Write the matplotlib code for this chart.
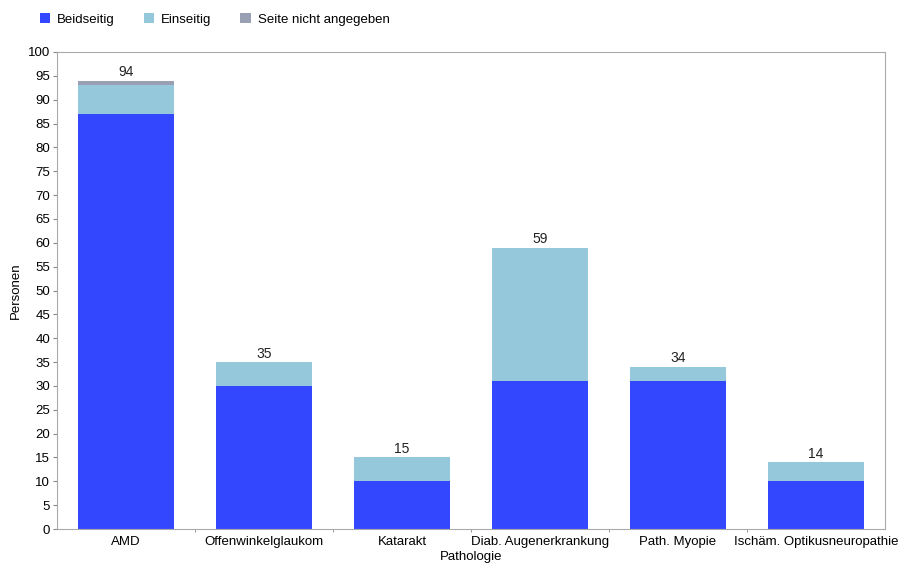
import matplotlib
matplotlib.use("Agg")
import matplotlib.pyplot as plt
import numpy as np

plt.rcParams["font.family"] = ["Liberation Sans", "DejaVu Sans"]

categories = ["AMD", "Offenwinkelglaukom", "Katarakt", "Diab. Augenerkrankung",
              "Path. Myopie", "Ischäm. Optikusneuropathie"]
beidseitig = [87, 30, 10, 31, 31, 10]
einseitig = [6, 5, 5, 28, 3, 4]
nicht_angegeben = [1, 0, 0, 0, 0, 0]
totals = [94, 35, 15, 59, 34, 14]

fig = plt.figure(figsize=(8.99, 5.63), dpi=100)
ax = fig.add_axes([57 / 899, 34 / 563, 828 / 899, 477 / 563])

x = np.arange(len(categories))
w = 0.7
bot2 = np.array(beidseitig) + np.array(einseitig)
ax.bar(x, beidseitig, w, color="#3347ff", label="Beidseitig")
ax.bar(x, einseitig, w, bottom=beidseitig, color="#96c8dc", label="Einseitig")
ax.bar(x, nicht_angegeben, w, bottom=bot2, color="#9aa0b4", label="Seite nicht angegeben")

for xi, t in zip(x, totals):
    ax.text(xi, t + 0.3, str(t), ha="center", va="bottom", fontsize=10, color="#222222",
            bbox=dict(facecolor="white", edgecolor="none", pad=0.5))

ax.set_xlim(-0.5, len(categories) - 0.5)
ax.set_ylim(0, 100)
ax.set_yticks(range(0, 101, 5))
ax.set_xticks(x)
ax.set_xticklabels(categories)
ax.set_xticks(np.arange(0.5, len(categories) - 0.5), minor=True)
ax.tick_params(axis="x", which="major", length=0, labelsize=9.5, pad=5)
ax.tick_params(axis="x", which="minor", length=2, color="#888888")
ax.tick_params(axis="y", length=3, color="#888888", labelsize=9.5, pad=2)
ax.set_xlabel("Pathologie", fontsize=9.5, labelpad=2)
ax.set_ylabel("Personen", fontsize=9.5, labelpad=4)
for s in ax.spines.values():
    s.set_color("#aaaaaa")

ax.legend(loc="upper left", bbox_to_anchor=(-29 / 828, 528 / 477), ncol=3, frameon=False,
          fontsize=9.5, handlelength=0.8, handleheight=0.8, columnspacing=2.2,
          handletextpad=0.5)

fig.savefig("out.png", dpi=100)
